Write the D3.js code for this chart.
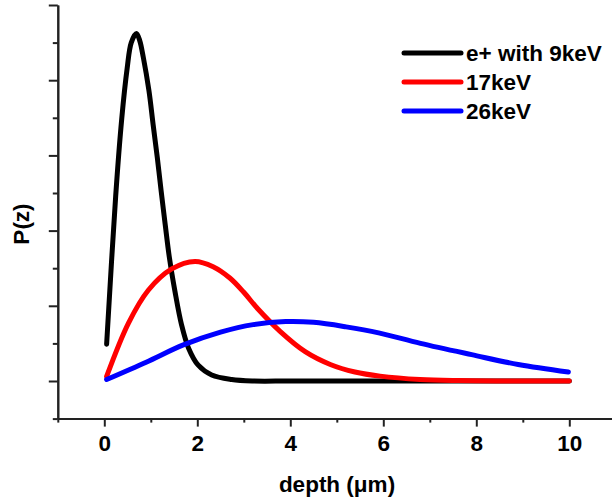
<!DOCTYPE html>
<html>
<head>
<meta charset="utf-8">
<script src="https://cdn.jsdelivr.net/npm/d3@7"></script>
<style>
  body { margin: 0; background: #fff; }
  text { font-family: "Liberation Sans", Arial, sans-serif; font-weight: bold; }
</style>
</head>
<body>
<svg width="612" height="501"></svg>
<script>
// positron implantation profiles
var seriesNames = ["e+ with 9keV", "17keV", "26keV"];
var seriesColors = ["#000000", "#ff0000", "#0000ff"];

var depth9 = [0.05, 0.245, 0.374, 0.49, 0.58, 0.69, 0.76, 0.84, 0.96, 1.05, 1.14, 1.22, 1.31, 1.40, 1.52, 1.66, 1.81, 2.02, 2.31, 2.74, 3.2, 4, 6, 8, 10];
var p9 = [0.49, 2.46, 3.48, 4.15, 4.5, 4.62, 4.53, 4.30, 3.86, 3.41, 2.97, 2.54, 2.08, 1.64, 1.19, 0.75, 0.44, 0.21, 0.08, 0.02, 0, 0, 0, 0, 0];

var depth17 = [0.05, 0.52, 0.95, 1.45, 1.95, 2.34, 2.7, 3.0, 3.3, 3.78, 4.32, 4.86, 5.39, 5.93, 6.79, 7.6, 8.5, 10];
var p17 = [0.06, 0.77, 1.21, 1.49, 1.59, 1.52, 1.37, 1.18, 0.96, 0.66, 0.39, 0.22, 0.12, 0.065, 0.02, 0.005, 0, 0];

var depth26 = [0.05, 0.9, 1.7, 2.5, 3.2, 3.9, 4.5, 5.2, 5.9, 6.8, 7.9, 8.9, 9.98];
var p26 = [0.02, 0.25, 0.48, 0.65, 0.75, 0.79, 0.78, 0.72, 0.64, 0.50, 0.35, 0.22, 0.12];

var xMajor = [0, 2, 4, 6, 8, 10];
var xMinor = [-1, 1, 3, 5, 7, 9];
var yMajor = [0, 1, 2, 3, 4, 5];
var yMinor = [-0.5, 0.5, 1.5, 2.5, 3.5, 4.5];

var svg = d3.select("svg");

// scales
var x = d3.scaleLinear().domain([-1, 11]).range([57.8, 615.8]);
var y = d3.scaleLinear().domain([-0.5, 5]).range([418.6, 5]);

var bottomY = y(-0.5), leftX = x(-1);

// x axis
var gx = svg.append("g").attr("transform", "translate(0," + bottomY + ")");
gx.call(d3.axisBottom(x).tickValues(xMajor).tickSize(8).tickPadding(8).tickSizeOuter(0));
gx.append("g").call(d3.axisBottom(x).tickValues(xMinor).tickSize(4).tickFormat("").tickSizeOuter(0));
gx.selectAll("text").style("font-size", "22.5px").attr("fill", "#000");

// y axis, no labels
var gy = svg.append("g").attr("transform", "translate(" + leftX + ",0)");
gy.call(d3.axisLeft(y).tickValues(yMajor).tickSize(9).tickFormat("").tickSizeOuter(0));
gy.append("g").call(d3.axisLeft(y).tickValues(yMinor).tickSize(5).tickFormat("").tickSizeOuter(0));

svg.selectAll(".domain, .tick line").attr("stroke", "#222").attr("stroke-width", 2);

// axis titles
svg.append("text")
    .attr("x", 337).attr("y", 492)
    .attr("text-anchor", "middle")
    .style("font-size", "22.5px")
    .text("depth (μm)");

svg.append("text")
    .attr("transform", "translate(29,224) rotate(-90)")
    .attr("text-anchor", "middle")
    .style("font-size", "22.5px")
    .text("P(z)");

// curves
var line = d3.line()
    .x(function(d){ return x(d[0]); })
    .y(function(d){ return y(d[1]); })
    .curve(d3.curveCatmullRom.alpha(0.5));

var series = [d3.zip(depth9, p9), d3.zip(depth17, p17), d3.zip(depth26, p26)];

svg.selectAll("path.curve")
  .data(series)
  .enter()
  .append("path")
    .attr("class", "curve")
    .attr("d", line)
    .style("fill", "none")
    .style("stroke", function(d, i){ return seriesColors[i]; })
    .style("stroke-width", 5)
    .style("stroke-linecap", "round")
    .style("stroke-linejoin", "round");

// legend
var legendY = [53, 82, 111];
var lg = svg.append("g");
seriesNames.forEach(function(name, i){
    lg.append("line")
        .attr("x1", 404).attr("x2", 461)
        .attr("y1", legendY[i]).attr("y2", legendY[i])
        .style("stroke", seriesColors[i])
        .style("stroke-width", 5)
        .style("stroke-linecap", "round");
    lg.append("text")
        .attr("x", 466).attr("y", legendY[i] + 8)
        .style("font-size", "22.5px")
        .text(name);
});
</script>
</body>
</html>
